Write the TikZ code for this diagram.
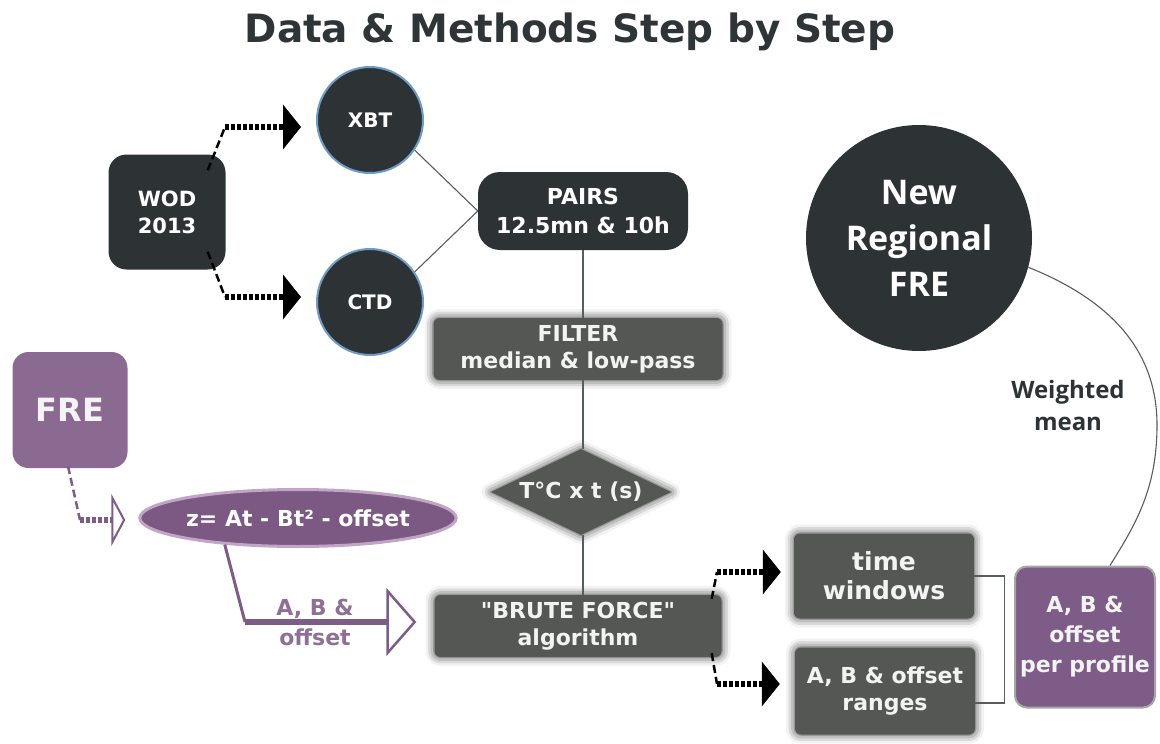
\documentclass[tikz,border=0pt]{standalone}
\usepackage{fontspec}
\setmainfont{DejaVu Sans}
\newfontfamily\dvq{DejaVu Sans}
\newfontfamily\osans{Open Sans}
\usetikzlibrary{shapes.geometric,arrows.meta,shadows.blur}
\definecolor{darkc}{HTML}{2D3335}
\definecolor{titlec}{HTML}{2F3537}
\definecolor{grayc}{HTML}{555755}
\definecolor{purpc}{HTML}{8A6A91}
\definecolor{purpd}{HTML}{7E5C88}
\definecolor{purpe}{HTML}{7B5983}
\definecolor{purpl}{HTML}{C2A5C6}
\definecolor{purpt}{HTML}{8E7096}
\definecolor{bluec}{HTML}{6E9CC8}
\definecolor{txtl}{HTML}{F3F3F3}
\newcommand\fsz[2]{\fontsize{#1}{#2}\selectfont}
\begin{document}
\begin{tikzpicture}[x=1pt,y=-1pt,
  darkbox/.style={rectangle, rounded corners=18pt, fill=darkc, text=white,
    font=\bfseries\fsz{21}{27}, align=center, inner sep=0pt},
  darkcirc/.style={circle, fill=darkc, draw=bluec, line width=2pt, text=white,
    font=\bfseries\fsz{20}{24}, inner sep=0pt, minimum size=106pt},
  fuzzy/.style={blur shadow={shadow xshift=0pt, shadow yshift=0pt,
    shadow blur radius=9pt, shadow opacity=80}},
  graybox/.style={rectangle, rounded corners=6pt, fill=grayc, text=txtl,
    font=\bfseries\fsz{22}{27}, align=center, inner sep=0pt, fuzzy},
  purpbox/.style={rectangle, rounded corners=16pt, fill=purpc, text=txtl,
    align=center, inner sep=0pt},
  thinline/.style={draw=darkc!80, line width=1.1pt},
  dashpart/.style={line width=2.5pt, dash pattern=on 8pt off 4pt},
  dotarrow/.style={line width=6pt, dash pattern=on 4pt off 2pt,
    -{Triangle[length=18pt,width=44pt]}},
  pdotarrow/.style={draw=purpd, line width=6pt, dash pattern=on 4pt off 2pt,
    -{Triangle[length=14pt,width=52pt,fill=white,line width=2pt]}},
]
\useasboundingbox (0,0) rectangle (1160,744);

% title
\node[anchor=base, text=titlec, font=\bfseries\fsz{39}{46}] (title) at (570,42)
  {Data \& Methods Step by Step};

% top part
\node[darkbox, minimum width=117pt, minimum height=115pt] (wod) at (167,212)
  {WOD\\2013};
\node[darkcirc] (xbt) at (370,120) {XBT};
\node[darkcirc] (ctd) at (370,302) {CTD};
\node[darkbox, rounded corners=22pt, minimum width=210pt, minimum height=78pt,
  font=\bfseries\fsz{22}{29}] (pairs) at (583,211) {PAIRS\\12.5mn \& 10h};

\node[graybox, minimum width=289pt, minimum height=62pt] (filter) at (578,349)
  {FILTER\\median \& low-pass};
\node[diamond, fill=grayc, text=txtl, font=\bfseries\fsz{22}{26}, inner sep=0pt,
  shape aspect=2.1, minimum width=180pt, minimum height=86pt, fuzzy] (diam)
  at (581,492) {T°C x t (s)};
\node[graybox, minimum width=287pt, minimum height=62pt] (brute) at (578,626)
  {{\dvq\bfseries "}BRUTE FORCE{\dvq\bfseries "}\\algorithm};

\node[graybox, minimum width=180pt, minimum height=85pt,
  font=\bfseries\fsz{25}{29}] (tw) at (884,576) {time\\windows};
\node[graybox, minimum width=180pt, minimum height=87pt] (rng) at (885,691)
  {A, B \& offset\\ranges};

\node[purpbox, fill=purpd, draw=gray!70, line width=2pt, rounded corners=12pt,
  minimum width=140pt, minimum height=141pt, font=\bfseries\fsz{22}{30}]
  (prof) at (1085,637) {A, B \&\\offset\\per profile};

\node[circle, fill=darkc, text=white, minimum size=226pt, inner sep=0pt,
  align=center, font=\osans\bfseries\fsz{34}{46}] (newfre) at (919,238)
  {New\\Regional\\FRE};
\node[text=darkc, font=\osans\bfseries\fsz{24}{32}, align=center] (wm)
  at (1068,405) {Weighted\\mean};

% purple part
\node[purpbox, minimum width=115pt, minimum height=116pt,
  font=\bfseries\fsz{32}{38}, text=white!92!purpc] (fre) at (70,410) {FRE};
\node[ellipse, fill=purpe, draw=purpl, line width=3pt, minimum width=257pt,
  minimum height=57pt, inner sep=0pt, text=white,
  font=\bfseries\fsz{22}{25}] (ell) at (298,518) {z= At - Bt² - offset};
\node[text=purpt, font=\bfseries\fsz{22}{30}, align=center] (lab)
  at (315,622) {A, B \&\\offset};

% connectors top
\draw[thinline] (xbt.-34) -- (pairs.west);
\draw[thinline] (ctd.34) -- (pairs.west);
\draw[thinline] (pairs.south) -- (pairs.south |- filter.north);
\draw[thinline] (pairs.south |- filter.south) -- (pairs.south |- diam.north);
\draw[thinline] (pairs.south |- diam.south) -- (pairs.south |- brute.north);

\coordinate (c1) at (225,127);
\coordinate (c2) at (225,297);
\draw[dashpart] ([shift={(-18pt,-16pt)}]wod.north east) -- (c1);
\draw[dashpart] ([shift={(-18pt,18pt)}]wod.south east) -- (c2);
\draw[dotarrow, shorten >=15pt] (c1) -- (c1 -| xbt.west);
\draw[dotarrow, shorten >=15pt] (c2) -- (c2 -| ctd.west);

\coordinate (c3) at (717,572);
\coordinate (c4) at (717,684);
\draw[dashpart] ([shift={(-10pt,-4pt)}]brute.north east) -- (c3);
\draw[dashpart] ([shift={(-10pt,4pt)}]brute.south east) -- (c4);
\draw[dotarrow, shorten >=13pt] (c3) -- (c3 -| tw.west);
\draw[dotarrow, shorten >=15pt] (c4) -- (c4 -| rng.west);

\draw[thinline] (tw.east) -- ++(30,0) |- ([yshift=-12pt]rng.east);

\draw[thinline] (newfre.-15) .. controls (1110,300) and (1157,350) .. (1157,425)
  .. controls (1157,490) and (1135,525) .. ([xshift=25pt]prof.north);

% connectors purple
\coordinate (c5) at (80,520);
\draw[dashpart, draw=purpd] ([shift={(-2pt,2pt)}]fre.south) -- (c5);
\draw[pdotarrow, shorten >=13pt] (c5) -- (c5 -| ell.west);

\coordinate (c6) at (245,622);
\draw[draw=purpd, line width=3pt] (ell.200) -- (c6);
\draw[draw=purpd, line width=6pt,
  -{Triangle[length=30pt,width=68pt,fill=white,line width=2.5pt]},
  shorten >=18pt] (c6) -- (c6 -| brute.west);
\end{tikzpicture}
\end{document}
